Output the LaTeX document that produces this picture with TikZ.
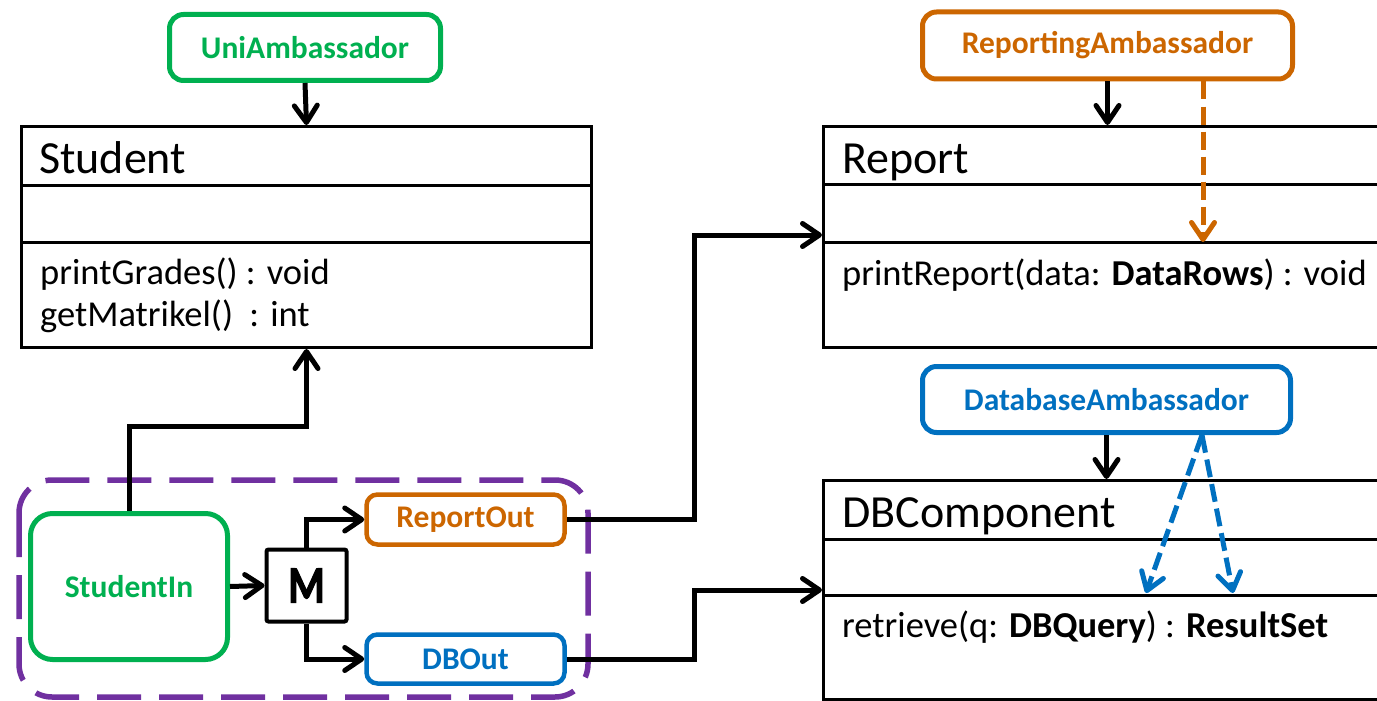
\documentclass[tikz,border=0pt]{standalone}
\usepackage{fontspec}
\setmainfont{Carlito}
\usepackage{graphicx}
\usetikzlibrary{arrows.meta,calc}
\definecolor{ambgreen}{HTML}{00B050}
\definecolor{ambor}{HTML}{CC6600}
\definecolor{ambblue}{HTML}{0070C0}
\definecolor{grpviolet}{HTML}{7030A0}
\begin{document}
\begin{tikzpicture}[x=1pt,y=-1pt,
  >={Straight Barb[length=17pt,width=23pt,round]},
  conn/.style={line width=5pt,->},
  dconn/.style={line width=5pt,->,dash pattern=on 18pt off 7pt},
  clsbox/.style={draw,line width=3pt,anchor=north west,inner sep=0pt},
  clsline/.style={line width=3pt},
  ctitle/.style={anchor=base west,inner sep=0pt,font=\fontsize{46}{55}\selectfont},
  cmeth/.style={anchor=base west,inner sep=0pt,font=\fontsize{36.5}{44}\selectfont},
  amb/.style={draw,line width=5pt,rounded corners=14pt,inner sep=0pt,
    font=\fontsize{31.5}{38}\selectfont\bfseries},
  port/.style={amb,line width=4.5pt,rounded corners=11pt},
]
\clip (0,0) rectangle (1377,701);
\fill[white] (0,0) rectangle (1377,701);

% class boxes
\node[clsbox,minimum width=570pt,minimum height=221pt] (student) at (20,125) {};
\draw[clsline] (20,185) -- (590,185) (20,242) -- (590,242);
\node[clsbox,minimum width=620pt,minimum height=221pt] (report) at (822,125) {};
\draw[clsline] (822,184) -- (1442,184) (822,242) -- (1442,242);
\node[clsbox,minimum width=620pt,minimum height=219pt] (dbc) at (822,479) {};
\draw[clsline] (822,539) -- (1442,539) (822,595) -- (1442,595);

\node[ctitle] (tstud) at (39,173) {Student};
\node[cmeth] (mgrades) at (40,284) {printGrades() : void};
\node[cmeth] (mmatr) at (40,326) {getMatrikel()\hspace{0.45em}: int};
\node[ctitle] (trep) at (842,173) {Report};
\node[cmeth] (mrep) at (842,285) {printReport(data: \textbf{DataRows}) : void};
\node[ctitle] (tdb) at (842,527) {DBComponent};
\node[cmeth] (mret) at (842,637) {retrieve(q: \textbf{DBQuery}) : \textbf{ResultSet}};

% ambassadors
\node[amb,draw=ambgreen,text=ambgreen,minimum width=271pt,minimum height=66pt] (uni) at (305,47.5) {UniAmbassador};
\node[amb,draw=ambor,text=ambor,minimum width=370pt,minimum height=67pt] (ramb) at (1107.5,45.5) {ReportingAmbassador};
\node[amb,draw=ambblue,text=ambblue,minimum width=368pt,minimum height=66pt] (damb) at (1106.5,399.5) {DatabaseAmbassador};

% component group
\draw[grpviolet,line width=5.5pt,dash pattern=on 44pt off 18pt,rounded corners=33pt] (19,480) rectangle (588,697);
\node[amb,draw=ambgreen,text=ambgreen,rounded corners=22pt,minimum width=197pt,minimum height=146pt] (sin) at (129,586.5) {StudentIn};
\node[port,draw=ambor,text=ambor,minimum width=198pt,minimum height=50pt] (rout) at (465.5,519.5) {ReportOut};
\node[port,draw=ambblue,text=ambblue,minimum width=198pt,minimum height=49pt] (dout) at (465.5,659) {DBOut};
\node[draw,line width=4pt,rounded corners=2pt,minimum width=80pt,minimum height=72pt,inner sep=0pt] (mux) at (306.5,585.5)
  {\fontsize{52}{52}\selectfont\bfseries\addfontfeature{FakeBold=2.5}\scalebox{0.8}[1]{M}};

% connectors
\coordinate (rin) at (822,235);
\coordinate (din) at (822,590);
\coordinate (rdash) at (1203,242);
\coordinate (dsrc) at (1202,0);
\coordinate (dq) at (1146,593);
\coordinate (dr) at (1233,593);

\draw[conn] (uni.south) -- (student.north);
\draw[conn] (sin.north) -- ++(0,-85) -| (student.south);
\draw[conn] (sin.east) -- (mux.west);
\draw[conn] (mux.north) |- (rout.west);
\draw[conn] (mux.south) |- (dout.west);
\draw[conn] (rout.east) -- ++(128,0) |- (rin);
\draw[conn] (dout.east) -- ++(128,0) |- (din);
\draw[conn] (ramb.south) -- (ramb.south |- report.north);
\draw[conn] (damb.south) -- (damb.south |- dbc.north);
\draw[dconn,ambor] (ramb.south -| rdash) -- (rdash);
\draw[dconn,ambblue] (damb.south -| dsrc) -- (dq);
\draw[dconn,ambblue] (damb.south -| dsrc) -- (dr);
\end{tikzpicture}
\end{document}
